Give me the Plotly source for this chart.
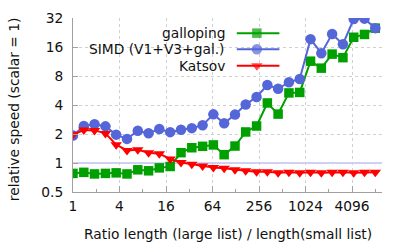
import plotly.graph_objects as go

# ---- data ----
ratio = [1, 1.38, 1.9, 2.63, 3.62, 5, 6.9, 9.51, 13.1, 18.1, 25, 34.5, 47.6, 65.6,
         90.5, 125, 172, 238, 328, 452, 624, 861, 1188, 1639, 2261, 3120, 4304, 5938, 8192]
galloping = [0.78, 0.80, 0.77, 0.78, 0.79, 0.77, 0.85, 0.83, 0.89, 0.92,
             1.28, 1.44, 1.49, 1.54, 1.22, 1.5, 2.1, 2.42, 4.2, 3.22,
             5.34, 5.4, 11.4, 9.65, 13.5, 12.4, 20.2, 21.6, 25.1]
simd = [1.93, 2.42, 2.53, 2.4, 1.97, 1.78, 2.16, 2.04, 2.25, 2.09,
        2.21, 2.3, 2.47, 3.2, 2.58, 3.18, 4.05, 4.85, 6.45, 5.9,
        6.9, 7.45, 19.3, 13.8, 21.8, 17.1, 31.2, 31.5, 25.1]
katsov = [1.97, 2.2, 2.18, 2.03, 1.55, 1.35, 1.37, 1.28, 1.25, 1.1,
          1.01, 0.97, 0.93, 0.9, 0.88, 0.85, 0.83, 0.81, 0.81, 0.79,
          0.8, 0.79, 0.8, 0.79, 0.8, 0.8, 0.79, 0.8, 0.8]
series_names = ["galloping", "SIMD (V1+V3+gal.)", "Katsov"]
x_tick_vals = [1, 4, 16, 64, 256, 1024, 4096]
x_minor_vals = [2, 8, 32, 128, 512, 2048, 8192]
y_tick_vals = [0.5, 1, 2, 4, 8, 16, 32]
y_tick_text = ["0.5", "1", "2", "4", "8", "16", "32"]

GREEN = "#00a000"
BLUE = "#5566d8"
RED = "#ff0000"
FONT = "DejaVu Sans"
FS = 13.8
TXT = "#111111"

styles = [
    (galloping, GREEN, "square", 9.5),
    (simd, BLUE, "circle", 10.5),
    (katsov, RED, "triangle-down", 10),
]

fig = go.Figure()
for (vals, col, sym, size), name in zip(styles, series_names):
    fig.add_trace(go.Scatter(
        x=ratio, y=vals, name=name, mode="lines+markers",
        line=dict(color=col, width=2),
        marker=dict(symbol=sym, size=size, color=col, line=dict(width=0)),
        showlegend=False))

# reference line: scalar = 1
fig.add_hline(y=1, line=dict(color="#a0a0ff", width=1), layer="below")

# custom legend (text on the left, sample on the right)
leg_rows = [0.913, 0.8205, 0.726]
for (vals, col, sym, size), name, ry in zip(styles, series_names, leg_rows):
    fig.add_trace(go.Scatter(
        x=[0.530, 0.595, 0.668], y=[ry, ry, ry], xaxis="x2", yaxis="y2",
        mode="lines+markers", line=dict(color=col, width=2),
        marker=dict(symbol=sym, size=[0, size, 0], color=col, line=dict(width=0)),
        showlegend=False, hoverinfo="skip"))
    fig.add_annotation(x=0.497, y=ry, xref="paper", yref="paper",
                       xanchor="right", yanchor="middle", text=name,
                       showarrow=False, font=dict(family=FONT, size=FS, color=TXT))

# axis titles
fig.add_annotation(x=0.5, y=-0.241, xref="paper", yref="paper",
                   xanchor="center", yanchor="middle", showarrow=False,
                   text="Ratio length (large list) / length(small list)",
                   font=dict(family=FONT, size=FS, color=TXT))
fig.add_annotation(x=-0.191, y=0.476, xref="paper", yref="paper",
                   xanchor="center", yanchor="middle", showarrow=False, textangle=-90,
                   text="relative speed (scalar = 1)",
                   font=dict(family=FONT, size=FS, color=TXT))

axis_common = dict(
    showline=True, linecolor="#a0a0a0", linewidth=1,
    ticks="inside", tickcolor="#a0a0a0", tickwidth=1,
    showgrid=True, gridcolor="#d0d0d0", griddash="dot", gridwidth=1,
    zeroline=False, automargin=False,
    tickfont=dict(family=FONT, size=FS, color=TXT),
)

fig.update_layout(
    width=407, height=244,
    margin=dict(l=73, r=25, t=18, b=52),
    paper_bgcolor="white", plot_bgcolor="white",
    font=dict(family=FONT, size=FS, color=TXT),
    hovermode=False,
    xaxis=dict(type="log", range=[0, 4], tickmode="array",
               tickvals=x_tick_vals, ticktext=[str(v) for v in x_tick_vals],
               ticklen=6, ticklabelstandoff=1,
               minor=dict(tickmode="array", tickvals=x_minor_vals, ticks="inside",
                          ticklen=3, tickcolor="#a0a0a0", showgrid=False),
               **axis_common),
    yaxis=dict(type="log", range=[-0.30103, 1.50515], tickmode="array",
               tickvals=y_tick_vals, ticktext=y_tick_text,
               ticklen=5, ticklabelstandoff=6,
               **axis_common),
    xaxis2=dict(overlaying="x", range=[0, 1], visible=False, fixedrange=True),
    yaxis2=dict(overlaying="y", range=[0, 1], visible=False, fixedrange=True),
)

# remove the default 8px page margin so the figure sits at the window's corner
fig.write_html("out.html", config={"displayModeBar": False},
               post_script="document.body.style.margin='0';document.body.style.padding='0';")
